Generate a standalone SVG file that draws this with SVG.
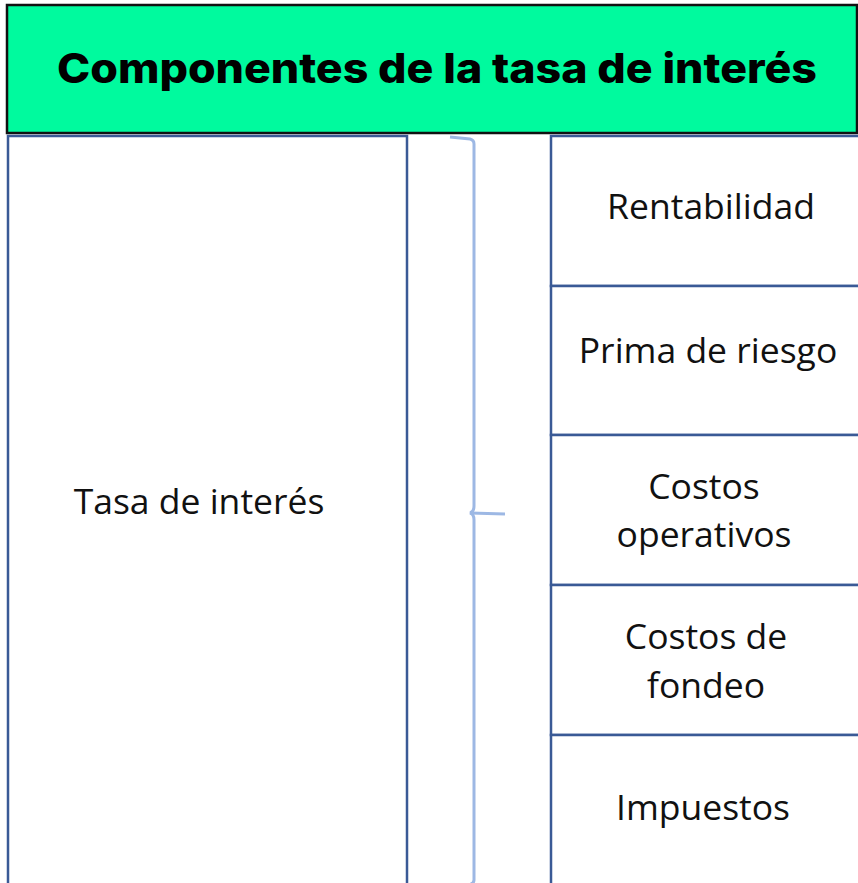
<svg xmlns="http://www.w3.org/2000/svg" width="858" height="883" viewBox="0 0 858 883">
<style>
.box{fill:#fff;stroke:#3A5A96;stroke-width:2.5}
.lbl{font-family:"Open Sans","Noto Sans","Liberation Sans",sans-serif;font-size:35.5px;fill:#111;text-anchor:middle}
.title{font-family:Inter,"Liberation Sans",sans-serif;font-weight:800;font-size:41px;fill:#000;text-anchor:middle}
.brace{fill:none;stroke:#9DB8E4;stroke-width:3}
</style>
<rect width="858" height="883" fill="#fff"/>
<g id="header">
<rect x="7" y="5" width="850" height="128" fill="#00FA9E" stroke="#111" stroke-width="2.5"/>
<text class="title" x="437" y="83" textLength="760" lengthAdjust="spacingAndGlyphs">Componentes de la tasa de interés</text>
</g>
<g id="tasa">
<rect class="box" x="8" y="136" width="399" height="752"/>
<text class="lbl" x="199" y="514">Tasa de interés</text>
</g>
<g id="connectors">
<path class="brace" d="M450 137 L470 139 Q474 140 474 144 L474 506 Q474 512 470 513 Q474 514 474 520 L474 880 Q474 884 468 885"/>
<path class="brace" d="M470 513 L505 514"/>
</g>
<g id="rentabilidad">
<rect class="box" x="551" y="136" width="312" height="150"/>
<text class="lbl" x="711" y="219">Rentabilidad</text>
</g>
<g id="prima">
<rect class="box" x="551" y="286" width="312" height="149"/>
<text class="lbl" x="708" y="363">Prima de riesgo</text>
</g>
<g id="operativos">
<rect class="box" x="551" y="435" width="312" height="150"/>
<text class="lbl" x="704" y="499">Costos</text>
<text class="lbl" x="704" y="547">operativos</text>
</g>
<g id="fondeo">
<rect class="box" x="551" y="585" width="312" height="150"/>
<text class="lbl" x="706" y="649">Costos de</text>
<text class="lbl" x="706" y="698">fondeo</text>
</g>
<g id="impuestos">
<rect class="box" x="551" y="735" width="312" height="153"/>
<text class="lbl" x="703" y="820">Impuestos</text>
</g>
</svg>
